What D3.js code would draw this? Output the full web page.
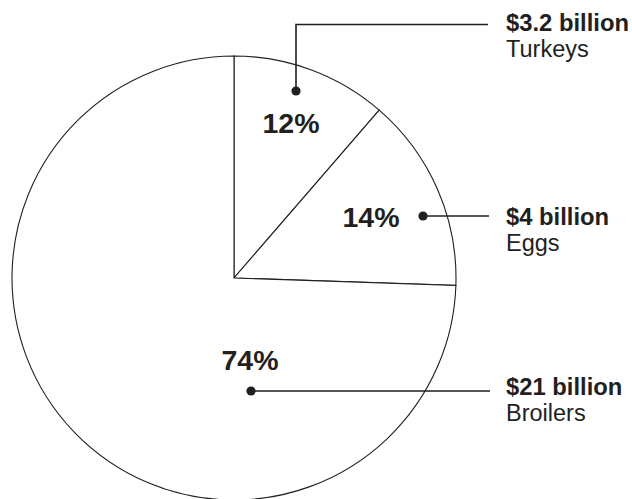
<!DOCTYPE html>
<html><head><meta charset="utf-8">
<script src="https://cdn.jsdelivr.net/npm/d3@7"></script>
<style>
html,body{margin:0;padding:0;background:#fff;}
svg{display:block;}
text{font-family:"Liberation Sans",Arial,Helvetica,sans-serif;fill:#231f20;}
</style></head>
<body>
<svg id="chart" width="632" height="499"></svg>
<script>
// Data
const categories = ["Turkeys", "Eggs", "Broilers"];
const values = [3.2, 4, 21];               // $ billion
const valueLabels = ["$3.2 billion", "$4 billion", "$21 billion"];
const percentLabels = ["12%", "14%", "74%"];

// Layout (not data)
const cx = 234, cy = 278, R = 222;
const layout = [
  {pct:[291,133], dot:[296,91], path:[[296,91],[296,24.5],[488,24.5]], lab:[506,31], sub:[506,57]},
  {pct:[371,227], dot:[423,216], path:[[423,216],[489,216]], lab:[506,225], sub:[506,251]},
  {pct:[250,370], dot:[251,391], path:[[251,391],[490,391]], lab:[506,395], sub:[506,421]}
];

const svg = d3.select("#chart");
const g = svg.append("g").attr("transform", `translate(${cx},${cy})`);

const pie = d3.pie().sort(null).value(d => d)(values);
const arc = d3.arc().innerRadius(0).outerRadius(R);

g.selectAll("path.slice").data(pie).join("path")
  .attr("class","slice")
  .attr("d", arc)
  .attr("fill","#fff")
  .attr("stroke","#231f20")
  .attr("stroke-width",1.1)
  .attr("stroke-linejoin","miter");

const line = d3.line();
categories.forEach((c,i) => {
  const L = layout[i];
  svg.append("path").attr("d", line(L.path)).attr("fill","none")
    .attr("stroke","#231f20").attr("stroke-width",1.6);
  svg.append("circle").attr("cx",L.dot[0]).attr("cy",L.dot[1]).attr("r",4.6).attr("fill","#231f20");
  svg.append("text").attr("x",L.pct[0]).attr("y",L.pct[1]).attr("text-anchor","middle")
    .attr("font-size",28.5).attr("font-weight","bold").text(percentLabels[i]);
  svg.append("text").attr("x",L.lab[0]).attr("y",L.lab[1])
    .attr("font-size",23.8).attr("font-weight","bold").text(valueLabels[i]);
  svg.append("text").attr("x",L.sub[0]).attr("y",L.sub[1])
    .attr("font-size",23.5).text(c);
});
</script>
</body></html>
